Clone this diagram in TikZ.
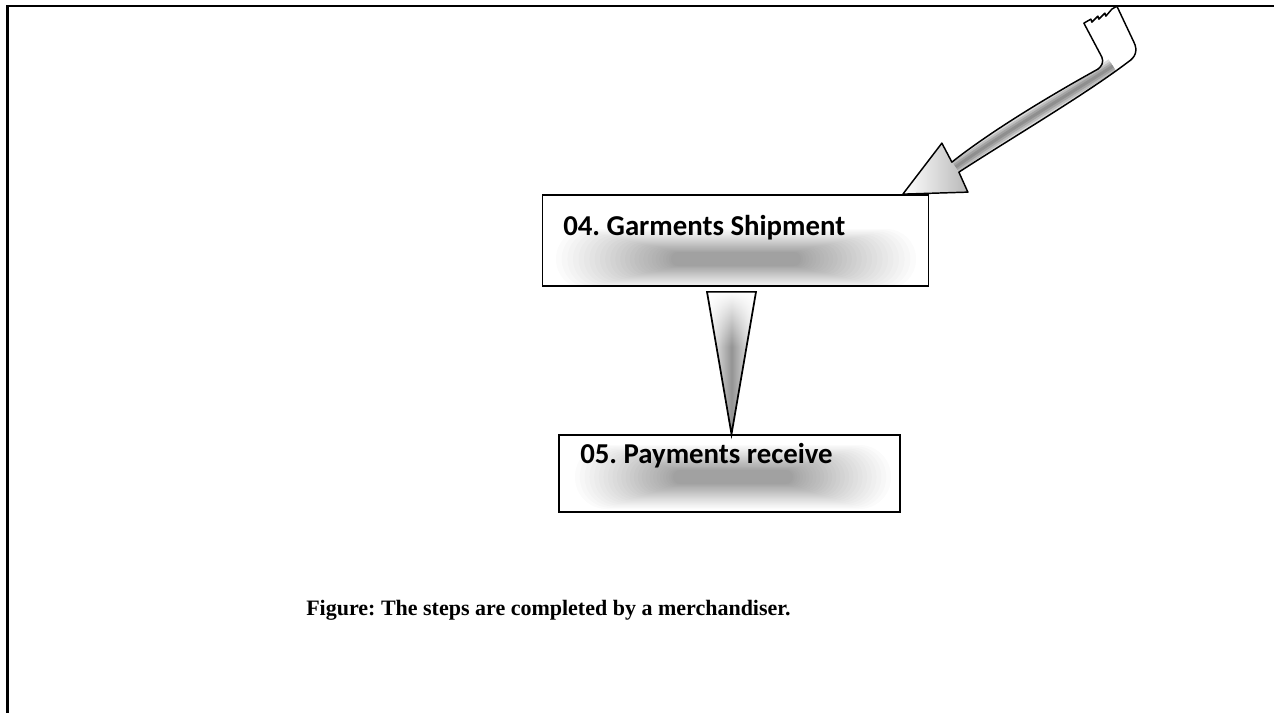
\documentclass[tikz,border=0pt]{standalone}
\usepackage{fontspec}
\setmainfont{Liberation Serif}
\newfontfamily\boxfont{Carlito}
\usetikzlibrary{calc,fadings}

\tikzfading[name=fadedown, top color=transparent!0, bottom color=transparent!100]

% soft grey glow: nested translucent rounded rectangles
% #1,#2 centre; #3,#4 outer half sizes; #5,#6 core half sizes
\newcommand\softglow[6]{%
  \foreach \i in {0,...,25}{%
    \pgfmathsetmacro\k{(1-\i/25)^1.25}%
    \pgfmathsetmacro\hw{#5+(#3-#5)*\k}%
    \pgfmathsetmacro\hh{#6+(#4-#6)*\k}%
    \pgfmathsetmacro\rc{0.74*\hh}%
    \fill[black, fill opacity=0.016, rounded corners=\rc pt]
      (#1-\hw,#2-\hh) rectangle (#1+\hw,#2+\hh);
  }}

\begin{document}
\begin{tikzpicture}[x=0.75pt, y=-0.75pt,
  stepbox/.style={draw=black, line width=1.3pt, fill=white, inner sep=0pt},
  steptext/.style={font=\boxfont\bfseries\fontsize{21.6pt}{26pt}\selectfont, inner sep=0pt, anchor=base west},
  captext/.style={font=\bfseries\fontsize{16.5pt}{20pt}\selectfont, inner sep=0pt, anchor=base west},
  edge/.style={draw=black, line width=1.3pt, line join=miter},
  % curved block arrow outline, relative to its tip
  arrowoutline/.style={insert path={
    (181,-171) -- (188,-175) -- (189,-172) -- (195,-178) -- (196,-175)
    -- (202,-181) -- (203,-178) -- (209,-185) -- (214,-188)
    -- (231,-152) .. controls (235,-144) and (233,-137) .. (225,-132)
    .. controls (183,-100) and (110,-57) .. (56,-22)
    -- (65,-2) -- (0,0) -- (39,-51) -- (49,-32)
    .. controls (88,-63) and (148,-99) .. (195,-125)
    .. controls (199,-128) and (201,-132) .. (199,-137) -- cycle}},
  tube/.style={insert path={(210,-128) .. controls (165.5,-99.5) and (99,-60) .. (52.5,-27)}}
]
\frenchspacing
\useasboundingbox (0,0) rectangle (1274,713);

% page frame
\coordinate (frameBL) at (7.5,713);
\coordinate (frameTL) at (7.5,6);
\coordinate (frameTR) at (1274,6);
\draw[line width=2pt] (frameBL) -- (frameTL) -- (frameTR);

% step boxes
\node[stepbox, minimum width=289.5pt, minimum height=68.25pt] (shipbox) at (735.5,240.5) {};
\node[stepbox, minimum width=255.75pt, minimum height=57.75pt] (paybox) at (729.5,473.5) {};

\begin{scope}
  \clip (545,197) rectangle (927,284.5);
  \softglow{736}{259}{180}{30}{65}{7}
\end{scope}
\begin{scope}
  \clip (561,437) rectangle (898,510.5);
  \softglow{733}{477}{158}{32}{60}{7}
\end{scope}

\node[steptext] (shiptext) at (563,235) {04. Garments Shipment};
\node[steptext] (paytext) at (580,463) {05. Payments receive};

% tapered connector between the boxes
\coordinate (tritop) at ($(shipbox.south)+(-4,5)$);
\coordinate (triL) at ($(tritop)+(-24.5,0)$);
\coordinate (triR) at ($(tritop)+(24.5,0)$);
\coordinate (triapex) at (tritop |- paybox.north);
\shade[left color=white, right color=white, middle color=black!42] (triL) -- (triR) -- (triapex) -- cycle;
\begin{scope}
  \clip (triL) -- (triR) -- (triapex) -- cycle;
  \fill[white, path fading=fadedown] ($(triL)+(-1,0)$) rectangle ($(triR)+(1,55)$);
\end{scope}
\draw[edge] (triL) -- (triR) -- (triapex) -- cycle;

% curved arrow coming into the shipment box
\coordinate (arrowtip) at ($(shipbox.north east)+(-26.5,0)$);
\begin{scope}[shift={(arrowtip)}]
  \fill[white, arrowoutline];
  \begin{scope}
    \clip[arrowoutline];
    \draw[black!14, line width=12pt, tube];
    \draw[black!26, line width=8.25pt, tube];
    \draw[black!36, line width=5.25pt, tube];
    \draw[black!44, line width=2.25pt, tube];
    \shade[left color=white, right color=black!28] (0,0) -- (39,-51) -- (49,-32) -- (56,-22) -- (65,-2) -- cycle;
  \end{scope}
  \draw[line width=1.1pt, line join=round, arrowoutline];
\end{scope}

% caption
\node[captext] (caption) at (306,615) {Figure: The steps are completed by a merchandiser.};
\end{tikzpicture}
\end{document}
